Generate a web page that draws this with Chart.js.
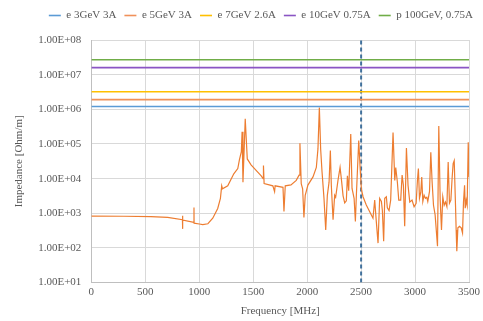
<!DOCTYPE html>
<html>
<head>
<meta charset="utf-8">
<script src="https://cdn.jsdelivr.net/npm/chart.js@4/dist/chart.umd.min.js"></script>
<style>
  html, body { margin: 0; padding: 0; background: #fff; }
  #wrap { width: 483px; height: 321px; }
</style>
</head>
<body>
<div id="wrap"><canvas id="chart" width="483" height="321"></canvas></div>
<script>
// legend names and threshold levels (Ohm/m)
const seriesNames = ["e 3GeV 3A", "e 5GeV 3A", "e 7GeV 2.6A", "e 10GeV 0.75A", "p 100GeV, 0.75A"];
const thresholds = [1.2e6, 1.9e6, 3.2e6, 1.6e7, 2.7e7];
const seriesColors = ["#5B9BD5", "#F0915A", "#FFC000", "#8A55C4", "#70AD47"];

const xTicks = [0, 500, 1000, 1500, 2000, 2500, 3000, 3500];
const yTicks = [1e1, 1e2, 1e3, 1e4, 1e5, 1e6, 1e7, 1e8];
const markerFreq = 2500;

// impedance curve
const freq = [
  0, 300, 552, 707, 844, 845, 846, 847, 950, 951, 952, 1000, 1032, 1080, 1125, 1171, 1196, 1208, 1215, 1264,
  1320, 1357, 1372, 1390, 1397, 1405, 1415, 1426, 1445, 1480, 1512, 1574, 1592, 1595, 1601, 1682, 1698, 1703,
  1776, 1785, 1797, 1850, 1899, 1925, 1933, 1945, 1958, 1970, 1982, 2007, 2054, 2085, 2100, 2113, 2125, 2138,
  2156, 2172, 2187, 2203, 2215, 2224, 2240, 2255, 2264, 2286, 2305, 2317, 2333, 2348, 2363, 2373, 2385, 2404,
  2416, 2435, 2447, 2456, 2478, 2490, 2502, 2518, 2548, 2595, 2610, 2626, 2641, 2657, 2672, 2688, 2697, 2709,
  2719, 2734, 2743, 2759, 2774, 2796, 2812, 2821, 2836, 2849, 2867, 2880, 2892, 2904, 2920, 2935, 2951, 2972,
  2991, 3010, 3022, 3031, 3041, 3053, 3062, 3072, 3084, 3096, 3109, 3118, 3134, 3146, 3158, 3171, 3186, 3208,
  3220, 3233, 3245, 3257, 3270, 3282, 3295, 3307, 3319, 3332, 3344, 3353, 3363, 3375, 3381, 3387, 3397, 3412,
  3428, 3440, 3449, 3459, 3465, 3474, 3483, 3493, 3500
];
const impedance = [
  830, 820, 800, 760, 650, 850, 355, 640, 550, 1480, 520, 490, 470, 500, 720, 1380, 2700, 6200, 5100, 6200,
  13800, 19500, 35000, 60000, 224000, 7900, 57000, 537000, 37000, 25000, 19500, 12000, 10000, 24000, 7200, 6200, 4200, 6200,
  5600, 1120, 6200, 6600, 8900, 12600, 105000, 7200, 5100, 760, 3300, 6500, 11200, 21000, 72000, 1120000, 72000, 15500,
  2700, 330, 3300, 7900, 65000, 6300, 650, 3300, 2900, 9100, 21000, 9800, 3200, 2000, 2300, 12000, 4500, 195000,
  5200, 2700, 580, 3300, 126000, 23000, 5100, 3000, 1740, 890, 720, 2400, 575, 138, 2700, 2200, 1200, 155,
  2700, 3000, 1450, 1200, 2400, 214000, 8900, 21000, 8000, 2400, 2400, 12600, 6400, 420, 76000, 6400, 2100, 2400,
  1550, 1950, 8900, 19500, 2700, 4000, 11200, 2200, 3300, 2700, 2900, 2200, 4300, 58000, 8100, 1700, 900, 112,
  330000, 2400, 330, 3000, 1700, 2100, 1550, 30000, 1950, 2400, 11000, 27000, 33000, 1700, 330, 80, 380, 420,
  380, 270, 2100, 6400, 1400, 2400, 1700, 112000, 11000
];

const FONT = "'Liberation Serif', 'Times New Roman', serif";
const TXT = "#595959";

function expLabel(v) {
  const e = Math.round(Math.log10(v));
  return "1.00E" + (e < 0 ? "-" : "+") + String(Math.abs(e)).padStart(2, "0");
}

const datasets = seriesNames.map((name, i) => ({
  label: name,
  data: [{ x: 0, y: thresholds[i] }, { x: 3500, y: thresholds[i] }],
  borderColor: seriesColors[i],
  backgroundColor: seriesColors[i],
  borderWidth: 1.6,
  pointRadius: 0
}));

datasets.push({
  label: "curve",
  data: freq.map((f, i) => ({ x: f, y: impedance[i] })),
  borderColor: "#ED7D31",
  backgroundColor: "#ED7D31",
  borderWidth: 1.2,
  pointRadius: 0,
  tension: 0
});

datasets.push({
  label: "marker",
  data: [{ x: markerFreq, y: yTicks[0] }, { x: markerFreq, y: yTicks[yTicks.length - 1] }],
  borderColor: "#41719C",
  borderWidth: 2,
  borderDash: [4, 3],
  pointRadius: 0
});

// extra room under the legend
const legendGap = {
  id: "legendGap",
  beforeInit(chart) {
    const fit = chart.legend.fit;
    chart.legend.fit = function () {
      fit.bind(chart.legend)();
      this.height += 9;
    };
  }
};

new Chart(document.getElementById("chart"), {
  type: "line",
  data: { datasets: datasets },
  plugins: [legendGap],
  options: {
    responsive: false,
    animation: false,
    layout: { padding: { top: 2, left: 9, right: 2, bottom: 3 } },
    plugins: {
      legend: {
        position: "top",
        align: "end",
        labels: {
          filter: item => item.datasetIndex < seriesNames.length,
          usePointStyle: true,
          pointStyle: "line",
          pointStyleWidth: 12,
          boxHeight: 8,
          padding: 8,
          color: TXT,
          font: { family: FONT, size: 11 }
        }
      },
      tooltip: { enabled: false }
    },
    scales: {
      x: {
        type: "linear",
        min: 0,
        max: 3500,
        afterBuildTicks: axis => { axis.ticks = xTicks.map(v => ({ value: v })); },
        grid: { color: "#d9d9d9", drawTicks: false },
        border: { color: "#bfbfbf" },
        ticks: { color: TXT, font: { family: FONT, size: 11 }, padding: 3, maxRotation: 0, callback: v => String(v) },
        title: { display: true, text: "Frequency [MHz]", color: TXT, font: { family: FONT, size: 11 }, padding: { top: 3, bottom: 0 } }
      },
      y: {
        type: "logarithmic",
        min: 1e1,
        max: 1e8,
        afterBuildTicks: axis => { axis.ticks = yTicks.map(v => ({ value: v })); },
        grid: { color: "#d9d9d9", drawTicks: false },
        border: { color: "#bfbfbf" },
        ticks: { color: TXT, font: { family: FONT, size: 11 }, padding: 10, callback: v => expLabel(v) },
        title: { display: true, text: "Impedance [Ohm/m]", color: TXT, font: { family: FONT, size: 11 }, padding: { bottom: 2 } }
      }
    }
  }
});
</script>
</body>
</html>
